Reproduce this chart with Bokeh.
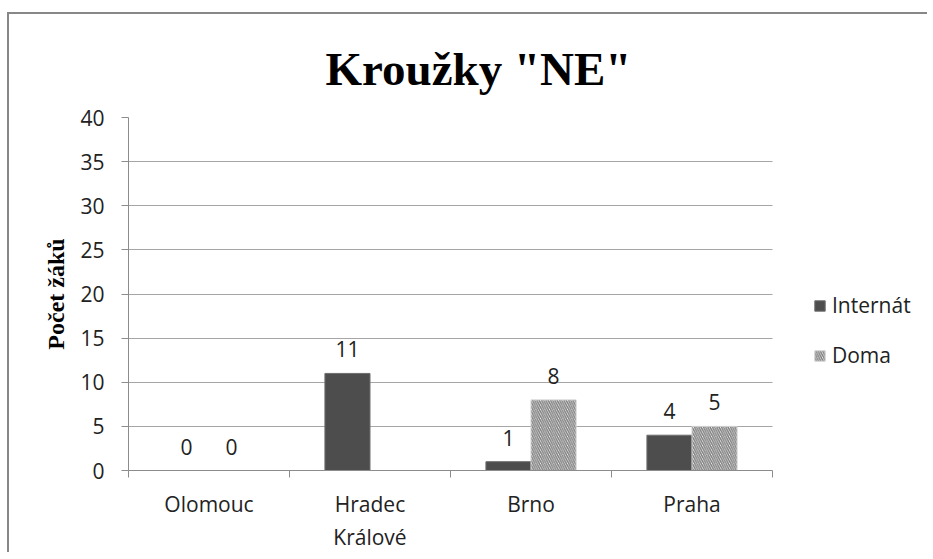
from bokeh.plotting import figure
from bokeh.models import FixedTicker, Legend, LegendItem, Range1d
from bokeh.embed import file_html
from bokeh.resources import INLINE
from bokeh.core.properties import value

title_text = 'Kroužky "NE"'
y_label = "Počet žáků"
cities = ["Olomouc", "Hradec\nKrálové", "Brno", "Praha"]
internat = [0, 11, 1, 4]
doma = [0, None, 8, 5]
series_names = ["Internát", "Doma"]
y_ticks = [0, 5, 10, 15, 20, 25, 30, 35, 40]

FONT = "Open Sans"
SERIF = "Liberation Serif"
bw = 0.28
# the frame also covers the legend area on the right; categories fill 644 of its 801 px
x_extent = len(cities) * 801 / 644

p = figure(width=920, height=540, x_range=Range1d(0, x_extent), y_range=Range1d(y_ticks[0], y_ticks[-1]),
           output_backend="svg", toolbar_location=None,
           min_border_left=119, min_border_right=0, min_border_top=103, min_border_bottom=81)
p.styles = {"border-left": "2px solid #878787", "border-top": "2px solid #878787",
            "margin-top": "12px", "margin-left": "7px"}
p.outline_line_color = None

xi = [i + 0.5 - bw / 2 for i in range(len(cities))]
xd = [i + 0.5 + bw / 2 for i in range(len(cities)) if doma[i] is not None]
td = [v for v in doma if v is not None]

r1 = p.vbar(x=xi, top=internat, width=bw, bottom=0, fill_color="#4d4d4d", line_color="#6e6e6e", line_width=1)
r2 = p.vbar(x=xd, top=td, width=bw, bottom=0, fill_color="white", line_color="#d0d0d0", line_width=1,
            hatch_pattern="\\", hatch_color="#7f7f7f", hatch_weight=1.5, hatch_scale=4.5)

lab_x = xi + xd
lab_y = internat + td
lab_t = [str(v) for v in lab_y]
p.text(x=lab_x, y=lab_y, text=lab_t, text_align="center", text_baseline="middle", y_offset=-24,
       text_font=value(FONT), text_font_size="21px", text_color="#222222")

# axes
p.xaxis.ticker = FixedTicker(ticks=[i + 0.5 for i in range(len(cities))], minor_ticks=list(range(len(cities) + 1)))
p.xaxis.major_label_overrides = {i + 0.5: c for i, c in enumerate(cities)}
p.xaxis.bounds = (0, len(cities))
p.xaxis.major_tick_out = 0
p.xaxis.major_tick_in = 0
p.xaxis.minor_tick_out = 7
p.xaxis.minor_tick_in = 0
p.xaxis.minor_tick_line_color = "#8c8c8c"
p.xaxis.axis_line_color = "#8c8c8c"
p.xaxis.major_label_standoff = 12
p.xaxis.major_label_text_font = FONT
p.xaxis.major_label_text_font_size = "21px"
p.xaxis.major_label_text_color = "#222222"

p.yaxis.ticker = FixedTicker(ticks=y_ticks)
p.yaxis.major_tick_out = 7
p.yaxis.major_tick_in = 0
p.yaxis.minor_tick_line_color = None
p.yaxis.major_tick_line_color = "#8c8c8c"
p.yaxis.axis_line_color = "#8c8c8c"
p.yaxis.major_label_standoff = 17
p.yaxis.major_label_text_font = FONT
p.yaxis.major_label_text_font_size = "21px"
p.yaxis.major_label_text_color = "#222222"
p.yaxis.axis_label = y_label
p.yaxis.axis_label_text_font = SERIF
p.yaxis.axis_label_text_font_style = "bold"
p.yaxis.axis_label_text_font_size = "24px"
p.yaxis.axis_label_text_color = "black"
p.yaxis.axis_label_standoff = 8

p.xgrid.visible = False
p.ygrid.ticker = FixedTicker(ticks=y_ticks)
p.ygrid.cross_bounds = (0, len(cities))
p.ygrid.grid_line_color = "#a6a6a6"
p.ygrid.grid_line_width = 1

p.title.text = title_text
p.title.text_font = SERIF
p.title.text_font_size = "47px"
p.title.text_font_style = "bold"
p.title.text_color = "black"
p.title.align = "left"
p.title.offset = 197
p.title.standoff = 45

legend = Legend(items=[LegendItem(label=series_names[0], renderers=[r1]),
                       LegendItem(label=series_names[1], renderers=[r2])],
                location=(685, 101), glyph_width=13, glyph_height=13, label_height=20, spacing=22,
                padding=0, margin=0, border_line_color=None, background_fill_alpha=0,
                label_text_font=FONT, label_text_font_size="21px", label_text_color="#222222",
                label_standoff=6)
p.add_layout(legend, "center")

open("out.html", "w").write(file_html(p, INLINE))
